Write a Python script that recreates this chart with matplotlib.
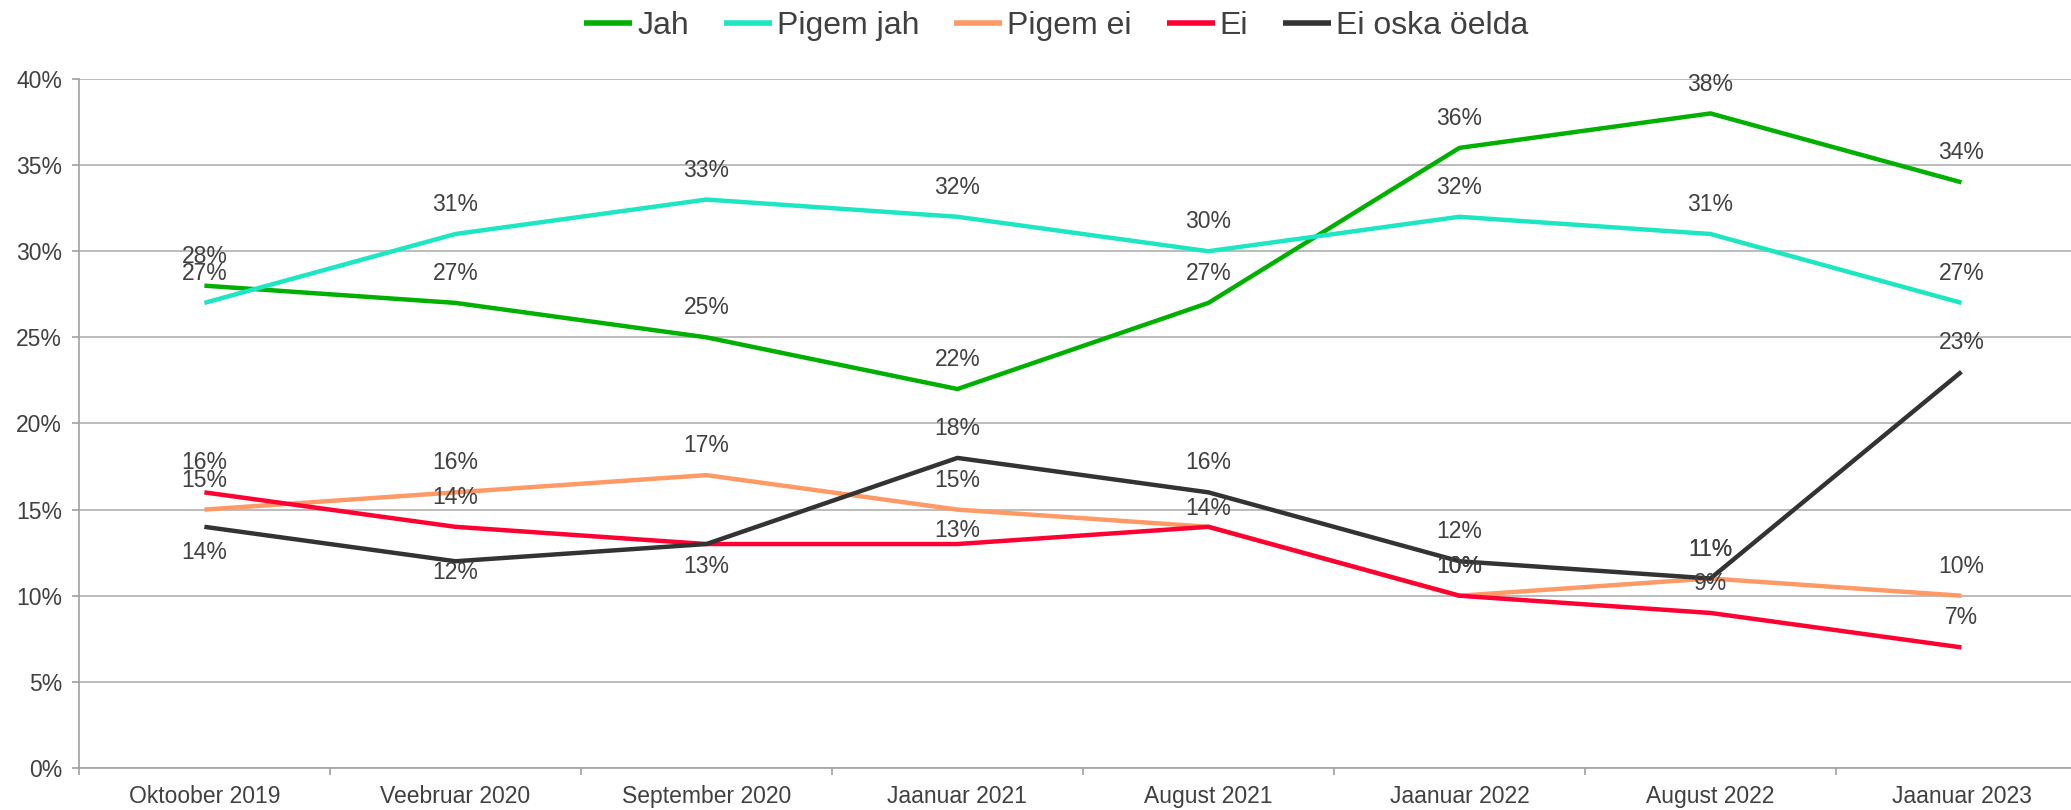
import numpy as np
import matplotlib.pyplot as plt

plt.rcParams['font.family'] = ['Liberation Sans', 'DejaVu Sans']

# survey waves
waves = ['Oktoober 2019', 'Veebruar 2020', 'September 2020', 'Jaanuar 2021',
         'August 2021', 'Jaanuar 2022', 'August 2022', 'Jaanuar 2023']

# answers in percent
jah = [28, 27, 25, 22, 27, 36, 38, 34]
pigem_jah = [27, 31, 33, 32, 30, 32, 31, 27]
pigem_ei = [15, 16, 17, 15, 14, 10, 11, 10]
ei = [16, 14, 13, 13, 14, 10, 9, 7]
ei_oska = [14, 12, 13, 18, 16, 12, 11, 23]

names = ['Jah', 'Pigem jah', 'Pigem ei', 'Ei', 'Ei oska öelda']
colors = ['#00B000', '#1DE6C3', '#FF9966', '#FF0033', '#333333']

# label offsets in points (baseline relative to point), None = no label
up = 16.5
offsets = [
    [up] * 8,
    [up] * 8,
    [up, up, up, up, 8.6, up, up, up],
    [up, up, None, 5, None, up, up, up],
    [-23, -12.5, -21, up, up, up, up, up],
]

series = [jah, pigem_jah, pigem_ei, ei, ei_oska]
x = np.arange(len(waves))

fig = plt.figure(figsize=(20.71, 8.10), dpi=100)
ax = fig.add_axes([0.0381, 0.0519, 0.9696, 0.8506])

text_col = '#404040'
for vals, name, col, offs in zip(series, names, colors, offsets):
    ax.plot(x, vals, color=col, lw=3.2, label=name, solid_capstyle='butt', zorder=3)
    for xi, v, o in zip(x, vals, offs):
        if o is None:
            continue
        ax.annotate(f'{v}%', (xi, v), xytext=(0, o), textcoords='offset points',
                    ha='center', va='baseline', fontsize=16.5, color=text_col, zorder=4)

ax.set_xlim(-0.5, 7.5)
ax.set_ylim(0, 40)
ax.set_yticks(range(0, 41, 5))
ax.set_yticklabels([f'{t}%' for t in range(0, 41, 5)])
ax.set_xticks(x)
ax.set_xticklabels(waves)
ax.set_xticks(np.arange(-0.5, 8, 1), minor=True)

ax.grid(axis='y', color='#B0B0B0', lw=1.2, zorder=0)
for s in ['top', 'right']:
    ax.spines[s].set_visible(False)
for s in ['left', 'bottom']:
    ax.spines[s].set_color('#A0A0A0')
    ax.spines[s].set_linewidth(1.2)

ax.tick_params(axis='y', length=5, color='#A0A0A0', width=1.2, pad=7,
               labelsize=16.5, labelcolor=text_col)
ax.tick_params(axis='x', which='major', length=0, pad=12,
               labelsize=16.5, labelcolor=text_col)
ax.tick_params(axis='x', which='minor', length=5, color='#A0A0A0', width=1.2)

leg = fig.legend(loc='center', bbox_to_anchor=(0.51, 0.968), ncol=5, frameon=False,
                 fontsize=23, handlelength=1.5, handletextpad=0.15, columnspacing=1.1)
for t in leg.get_texts():
    t.set_color(text_col)
for h in leg.get_lines():
    h.set_linewidth(4)

fig.savefig('out.png', dpi=100)
